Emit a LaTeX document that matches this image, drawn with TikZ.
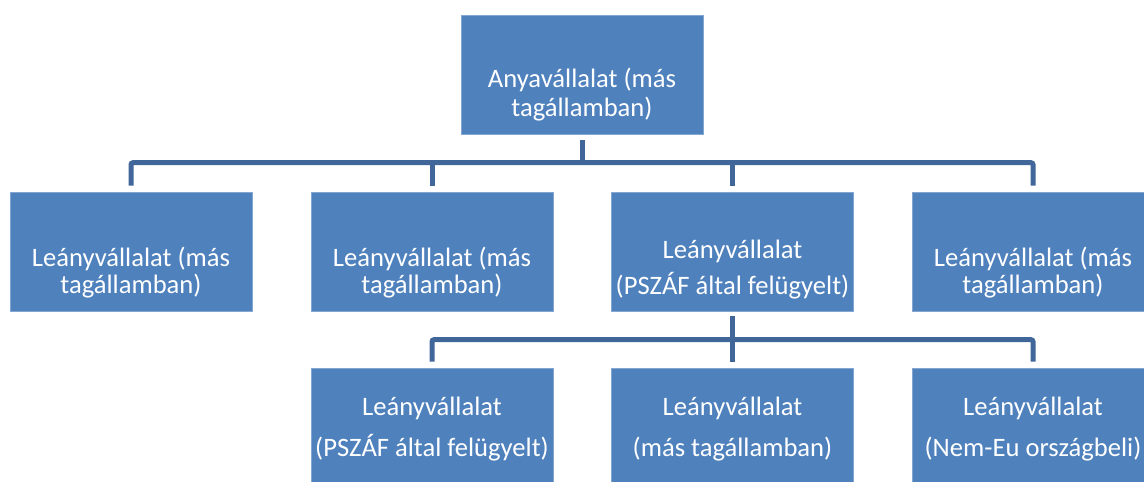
\documentclass[tikz,border=0pt]{standalone}
\usepackage{fontspec}
\setmainfont{Carlito}
\definecolor{boxblue}{HTML}{4F81BD}
\definecolor{linkblue}{HTML}{41669A}
\begin{document}
\begin{tikzpicture}[x=1pt,y=-1pt,
  box/.style={fill=boxblue, draw=boxblue!70!white, line width=0.6pt,
    minimum width=242pt, minimum height=119pt, inner sep=0pt},
  txt/.style={text=white, align=center, anchor=base, inner sep=0pt,
    font=\fontsize{26.6}{27}\selectfont},
  conn/.style={draw=linkblue, line width=5pt, rounded corners=2pt}]
\useasboundingbox (0,0) rectangle (1144,482);

% boxes
\node[box] (p) at (582,74.5) {};
\node[box] (c1) at (131,251.5) {};
\node[box] (c2) at (432,251.5) {};
\node[box] (c3) at (732.5,251.5) {};
\node[box] (c4) at (1033,251.5) {};
\node[box] (d1) at (432,427.5) {};
\node[box] (d2) at (732.5,427.5) {};
\node[box] (d3) at (1033,427.5) {};

% connectors
\draw[conn, shorten <=6pt] (p.south) -- ++(0,29) coordinate (bus1);
\draw[conn, shorten <=6pt, shorten >=6pt] (c1.north) -- ++(0,-29) -| (c4.north);
\draw[conn, shorten >=6pt] (c2.north |- bus1) -- (c2.north);
\draw[conn, shorten >=6pt] (c3.north |- bus1) -- (c3.north);
\draw[conn, shorten <=5pt, shorten >=6pt] (c3.south) -- (d2.north);
\draw[conn, shorten <=6pt, shorten >=6pt] (d1.north) -- ++(0,-28) -| (d3.north);

% texts (anchor base = baseline of last line)
\node[txt] (tp) at (582,116) {Anyavállalat (más\\[2pt]tagállamban)};
\node[txt] (t1) at (131,293) {Leányvállalat (más\\tagállamban)};
\node[txt] (t2) at (432,293) {Leányvállalat (más\\tagállamban)};
\node[txt] (t3) at (732.5,294) {Leányvállalat\\[9pt](PSZÁF által felügyelt)};
\node[txt] (t4) at (1033,293) {Leányvállalat (más\\tagállamban)};
\node[txt] (u1) at (432,456) {Leányvállalat\\[14pt](PSZÁF által felügyelt)};
\node[txt] (u2) at (732.5,456) {Leányvállalat\\[14pt](más tagállamban)};
\node[txt] (u3) at (1033,456) {Leányvállalat\\[14pt](Nem-Eu országbeli)};
\end{tikzpicture}
\end{document}
